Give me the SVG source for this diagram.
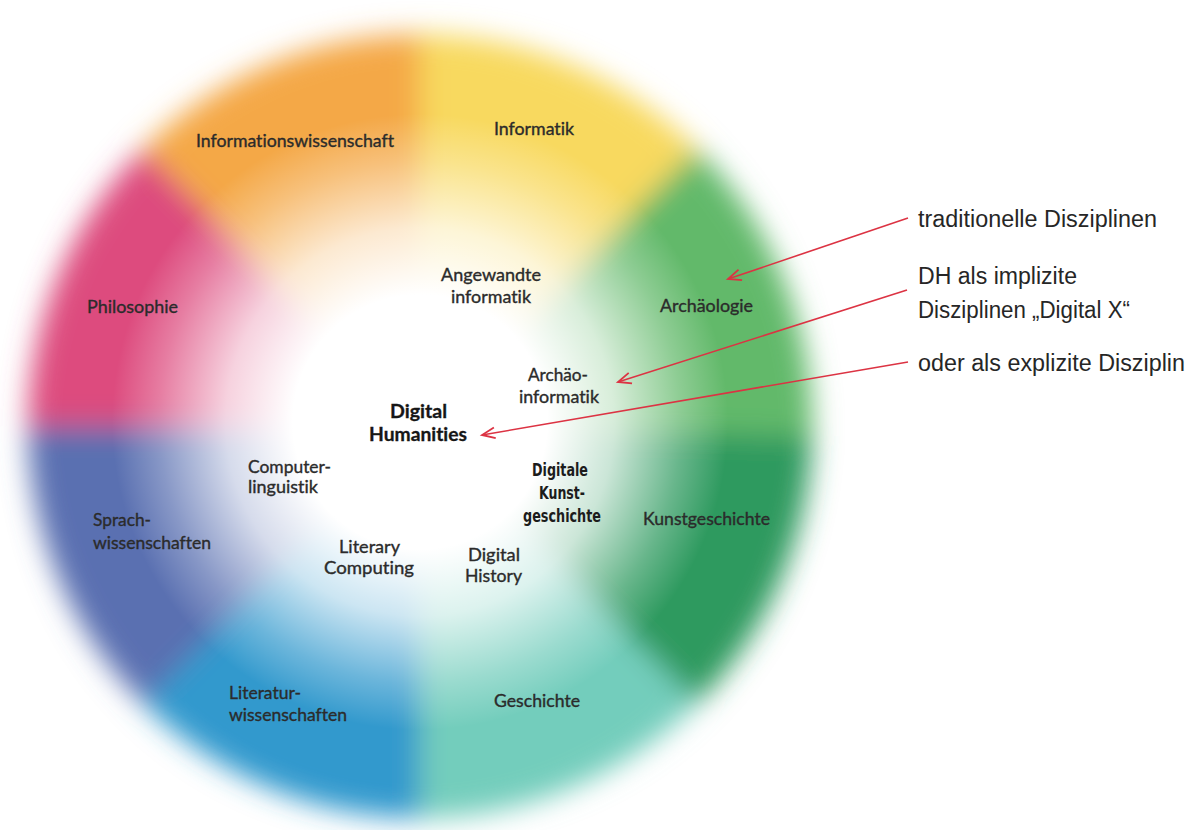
<svg xmlns="http://www.w3.org/2000/svg" width="1188" height="830" viewBox="0 0 1188 830">
  <defs>
    <filter id="soft" filterUnits="userSpaceOnUse" x="0" y="0" width="1188" height="830">
      <feGaussianBlur stdDeviation="14"/>
    </filter>
    <radialGradient id="core" gradientUnits="userSpaceOnUse" cx="420" cy="422" r="335">
      <stop offset="0" stop-color="#ffffff" stop-opacity="1"/>
      <stop offset="0.38" stop-color="#ffffff" stop-opacity="1"/>
      <stop offset="0.58" stop-color="#ffffff" stop-opacity="0.75"/>
      <stop offset="0.78" stop-color="#ffffff" stop-opacity="0.28"/>
      <stop offset="0.92" stop-color="#ffffff" stop-opacity="0"/>
    </radialGradient>
    <marker id="head" markerUnits="userSpaceOnUse" markerWidth="20" markerHeight="16" viewBox="-16 -8 18 16" refX="0" refY="0" orient="auto">
      <path d="M-13,-5.5 L0,0 L-13,5.5" fill="none" stroke="#dc3343" stroke-width="1.8"/>
    </marker>
    <style>
      text { font-variant-ligatures: none; }
      .lbl { font-family: Lato, "Open Sans", sans-serif; font-size: 17px; fill: #2b2b2b; stroke: #2b2b2b; stroke-width: 0.35px; }
      .dh { font-family: Lato, "Open Sans", sans-serif; font-size: 18px; font-weight: 700; fill: #161616; stroke: #161616; stroke-width: 0.3px; }
      .narrow { font-family: "Liberation Sans Narrow", "DejaVu Sans Condensed", sans-serif; font-size: 18px; font-weight: 700; fill: #1c1c1c; }
      .note { font-family: "Liberation Sans", Arial, sans-serif; font-size: 23px; fill: #262626; }
      .arrow { fill: none; stroke: #dc3343; stroke-width: 1.6; marker-end: url(#head); }
    </style>
  </defs>

  <rect width="1188" height="830" fill="#ffffff"/>

  <!-- colour wheel: eight soft sectors -->
  <g id="wheel" filter="url(#soft)">
    <path d="M420,426 L812,436 A392,392 0 0 1 697.2,703.2 Z" fill="#2f9a5e"/>
    <path d="M420,426 L697.2,703.2 A392,392 0 0 1 420,818 Z" fill="#73cdbc"/>
    <path d="M420,426 L420,818 A392,392 0 0 1 142.8,703.2 Z" fill="#3299cd"/>
    <path d="M420,426 L142.8,703.2 A392,392 0 0 1 28,426 Z" fill="#5a6fb1"/>
    <path d="M420,426 L28,426 A392,392 0 0 1 142.8,148.8 Z" fill="#dd4b7e"/>
    <path d="M420,426 L142.8,148.8 A392,392 0 0 1 420,34 Z" fill="#f4a847"/>
    <path d="M420,426 L420,34 A392,392 0 0 1 697.2,148.8 Z" fill="#f8d95e"/>
    <path d="M420,426 L697.2,148.8 A392,392 0 0 1 812,436 Z" fill="#62b96a"/>
  </g>
  <circle id="core-glow" cx="420" cy="422" r="335" fill="url(#core)"/>

  <!-- outer ring: traditional disciplines -->
  <g id="informationswissenschaft"><text class="lbl" x="196" y="147" textLength="198" lengthAdjust="spacingAndGlyphs">Informationswissenschaft</text></g>
  <g id="informatik"><text class="lbl" x="494" y="135" textLength="80" lengthAdjust="spacingAndGlyphs">Informatik</text></g>
  <g id="philosophie"><text class="lbl" x="87" y="313" textLength="91" lengthAdjust="spacingAndGlyphs">Philosophie</text></g>
  <g id="archaeologie"><text class="lbl" x="660" y="312" textLength="93" lengthAdjust="spacingAndGlyphs">Archäologie</text></g>
  <g id="kunstgeschichte"><text class="lbl" x="643" y="525" textLength="127" lengthAdjust="spacingAndGlyphs">Kunstgeschichte</text></g>
  <g id="sprachwissenschaften">
    <text class="lbl" x="93" y="526" textLength="58" lengthAdjust="spacingAndGlyphs">Sprach-</text>
    <text class="lbl" x="93" y="549" textLength="118" lengthAdjust="spacingAndGlyphs">wissenschaften</text>
  </g>
  <g id="literaturwissenschaften">
    <text class="lbl" x="229" y="699" textLength="72" lengthAdjust="spacingAndGlyphs">Literatur-</text>
    <text class="lbl" x="229" y="721" textLength="118" lengthAdjust="spacingAndGlyphs">wissenschaften</text>
  </g>
  <g id="geschichte"><text class="lbl" x="494" y="707" textLength="86" lengthAdjust="spacingAndGlyphs">Geschichte</text></g>

  <!-- inner ring: "Digital X" disciplines -->
  <g id="angewandte-informatik">
    <text class="lbl" x="441" y="281" textLength="100" lengthAdjust="spacingAndGlyphs">Angewandte</text>
    <text class="lbl" x="451" y="303" textLength="80" lengthAdjust="spacingAndGlyphs">informatik</text>
  </g>
  <g id="archaeoinformatik">
    <text class="lbl" x="528" y="381" textLength="60" lengthAdjust="spacingAndGlyphs">Archäo-</text>
    <text class="lbl" x="519" y="403" textLength="80" lengthAdjust="spacingAndGlyphs">informatik</text>
  </g>
  <g id="computerlinguistik">
    <text class="lbl" x="248" y="473" textLength="83" lengthAdjust="spacingAndGlyphs">Computer-</text>
    <text class="lbl" x="248" y="493" textLength="70" lengthAdjust="spacingAndGlyphs">linguistik</text>
  </g>
  <g id="digitale-kunstgeschichte">
    <text class="narrow" x="532" y="476" textLength="56" lengthAdjust="spacingAndGlyphs">Digitale</text>
    <text class="narrow" x="539" y="499" textLength="46" lengthAdjust="spacingAndGlyphs">Kunst-</text>
    <text class="narrow" x="523" y="522" textLength="78" lengthAdjust="spacingAndGlyphs">geschichte</text>
  </g>
  <g id="literary-computing">
    <text class="lbl" x="339" y="553" textLength="61" lengthAdjust="spacingAndGlyphs">Literary</text>
    <text class="lbl" x="324" y="574" textLength="90" lengthAdjust="spacingAndGlyphs">Computing</text>
  </g>
  <g id="digital-history">
    <text class="lbl" x="468" y="561" textLength="52" lengthAdjust="spacingAndGlyphs">Digital</text>
    <text class="lbl" x="465" y="582" textLength="57" lengthAdjust="spacingAndGlyphs">History</text>
  </g>

  <!-- centre: the explicit discipline -->
  <g id="digital-humanities">
    <text class="dh" x="390" y="418" textLength="57" lengthAdjust="spacingAndGlyphs">Digital</text>
    <text class="dh" x="369" y="441" textLength="98" lengthAdjust="spacingAndGlyphs">Humanities</text>
  </g>

  <!-- legend texts -->
  <g id="note-traditionell">
    <text class="note" x="918" y="227" textLength="239" lengthAdjust="spacingAndGlyphs">traditionelle Disziplinen</text>
  </g>
  <g id="note-implizit">
    <text class="note" x="918" y="284" textLength="159" lengthAdjust="spacingAndGlyphs">DH als implizite</text>
    <text class="note" x="918" y="318" textLength="212" lengthAdjust="spacingAndGlyphs">Disziplinen „Digital X“</text>
  </g>
  <g id="note-explizit">
    <text class="note" x="918" y="371" textLength="267" lengthAdjust="spacingAndGlyphs">oder als explizite Disziplin</text>
  </g>

  <!-- connectors from legend into the wheel -->
  <g id="connectors">
    <line class="arrow" x1="908" y1="218" x2="728" y2="279"/>
    <line class="arrow" x1="907" y1="290" x2="618" y2="382"/>
    <line class="arrow" x1="908" y1="362" x2="482" y2="435"/>
  </g>
</svg>
